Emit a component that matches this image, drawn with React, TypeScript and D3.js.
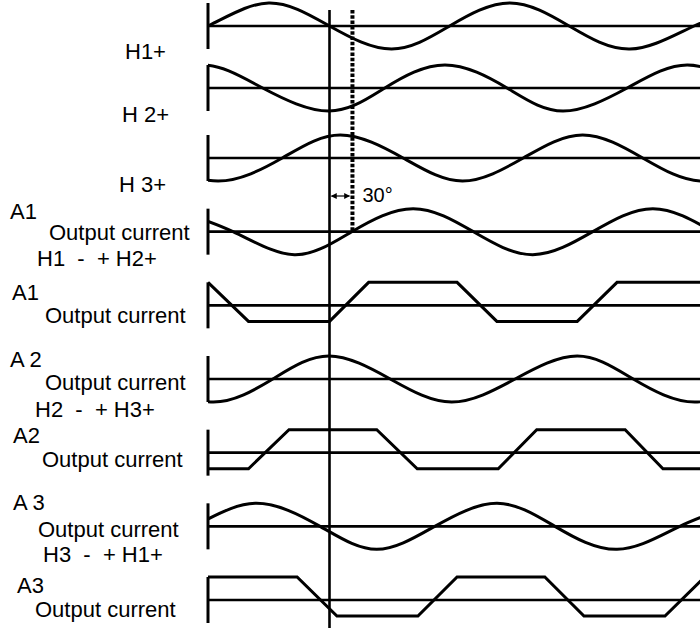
import React from 'react';
import * as d3 from 'd3';

type Knot = [number, number];

// phase in degrees from the left bars, level +1 = crest / -1 = trough
const h1Wave: Knot[] = [[-90, -1], [0, 0], [90, 1], [180, 0], [272, -1], [358, 0], [447, 1], [535, 0], [625, -1], [720, 0], [810, 1]];
const h2Wave: Knot[] = [[-95, 0], [-8, 1], [81, 0], [179, -1], [262, 0], [351, 1], [443, 0], [526, -1], [621, 0], [710, 1], [800, 0]];
const h3Wave: Knot[] = [[-80, 0], [15, -1], [110, 0], [196, 1], [289, 0], [377, -1], [467, 0], [555, 1], [644, 0], [732, -1], [820, 0]];
const a1Wave: Knot[] = [[-55, 1], [37, 0], [128, -1], [213, 0], [304, 1], [393, 0], [481, -1], [570, 0], [659, 1], [748, 0]];
const a2Wave: Knot[] = [[-82, 0], [8, -1], [96, 0], [179, 1], [270, 0], [361, -1], [455, 0], [547, 1], [630, 0], [721, -1], [810, 0]];
const a3Wave: Knot[] = [[-115, -1], [-22, 0], [70, 1], [166, 0], [250, -1], [336, 0], [428, 1], [514, 0], [606, -1], [699, 0], [788, 1]];

// trapezoid output currents: top +1, bottom -0.7
const a1Trap: Knot[] = [[0, 1], [60, -0.7], [180, -0.7], [238, 1], [369, 1], [428, -0.7], [547, -0.7], [606, 1], [760, 1]];
const a2Trap: Knot[] = [[0, -0.7], [60, -0.7], [120, 1], [250, 1], [310, -0.7], [430, -0.7], [487, 1], [618, 1], [674, -0.7], [760, -0.7]];
const a3Trap: Knot[] = [[0, 1], [132, 1], [191, -0.7], [311, -0.7], [369, 1], [499, 1], [557, -0.7], [677, -0.7], [736, 1], [780, 1]];

const rowWaves = [h1Wave, h2Wave, h3Wave, a1Wave, a1Trap, a2Wave, a2Trap, a3Wave, a3Trap];
const rowKinds = ['sine', 'sine', 'sine', 'sine', 'trap', 'sine', 'trap', 'sine', 'trap'];

const rowLabels = [
  ['H1+'],
  ['H 2+'],
  ['H 3+'],
  ['A1', 'Output current', 'H1  -  + H2+'],
  ['A1', 'Output current'],
  ['A 2', 'Output current', 'H2  -  + H3+'],
  ['A2', 'Output current'],
  ['A 3', 'Output current', 'H3  -  + H1+'],
  ['A3', 'Output current'],
];

const refPhase = 180;
const shiftPhase = 214;
const shiftText = '30°';

// label placement, one [x, y] per line
const labelPos = [
  [[125, 59]],
  [[122, 122]],
  [[119, 192]],
  [[10, 219], [49, 240], [37, 266]],
  [[12, 300], [45, 323]],
  [[10, 367], [45, 390], [35, 417]],
  [[13, 443], [42, 467]],
  [[13, 510], [38, 537], [43, 562]],
  [[17, 593], [35, 617]],
];

const W = 700;
const H = 628;
const FONT = "'Liberation Sans', Arial, sans-serif";

const App: React.FC = () => {
  const x = d3.scaleLinear().domain([0, 360]).range([208, 451]);
  const rowY = d3.scaleLinear().domain([0, 1, 2, 8]).range([26, 88, 158, 600]);
  const lv = d3.scaleLinear().domain([-1, 1]).range([23, -23]);

  const sine = d3.line<Knot>().x((d) => x(d[0])).y((d) => lv(d[1])).curve(d3.curveNatural);
  const trap = d3.line<Knot>().x((d) => x(d[0])).y((d) => lv(d[1]));

  const x0 = x(0);
  const xr = x(refPhase);
  const xs = x(shiftPhase);
  const arrowY = rowY(2) + 38;

  return (
    <svg
      width={W}
      height={H}
      style={{ position: 'absolute', left: 0, top: 0, background: '#fff' }}
    >
      <defs>
        <clipPath id='plot'>
          <rect x={x0} y={-H} width={W - x0} height={2 * H} />
        </clipPath>
        <marker id='ah' viewBox='0 0 8 8' refX='7' refY='4' markerWidth='5' markerHeight='5' orient='auto-start-reverse'>
          <path d='M0,0 L8,4 L0,8 z' fill='#000' />
        </marker>
      </defs>

      {rowWaves.map((knots, i) => (
        <g key={i} transform={`translate(0,${rowY(i)})`}>
          <line x1={x0} x2={W} y1={0} y2={0} stroke='#000' strokeWidth={2.6} />
          <line x1={x0} x2={x0} y1={lv(1)} y2={lv(-1)} stroke='#000' strokeWidth={3} />
          <path
            d={(rowKinds[i] === 'sine' ? sine : trap)(knots) || ''}
            fill='none'
            stroke='#000'
            strokeWidth={3}
            strokeLinejoin='miter'
            clipPath='url(#plot)'
          />
        </g>
      ))}

      <line x1={xr} x2={xr} y1={10} y2={H} stroke='#000' strokeWidth={2.6} />
      <line
        x1={xs}
        x2={xs}
        y1={10}
        y2={rowY(3)}
        stroke='#000'
        strokeWidth={4}
        strokeDasharray='3.5 1.8'
      />
      <line
        x1={xr + 2}
        x2={xs - 3}
        y1={arrowY}
        y2={arrowY}
        stroke='#000'
        strokeWidth={1.2}
        markerStart='url(#ah)'
        markerEnd='url(#ah)'
      />
      <text x={xs + 10} y={arrowY + 6} fontFamily={FONT} fontSize={20} fill='#000'>
        {shiftText}
      </text>

      {rowLabels.map((lines, i) =>
        lines.map((t, j) => (
          <text
            key={`${i}-${j}`}
            x={labelPos[i][j][0]}
            y={labelPos[i][j][1]}
            fontFamily={FONT}
            fontSize={22}
            fill='#000'
            style={{ whiteSpace: 'pre' }}
          >
            {t}
          </text>
        ))
      )}
    </svg>
  );
};

export default App;
